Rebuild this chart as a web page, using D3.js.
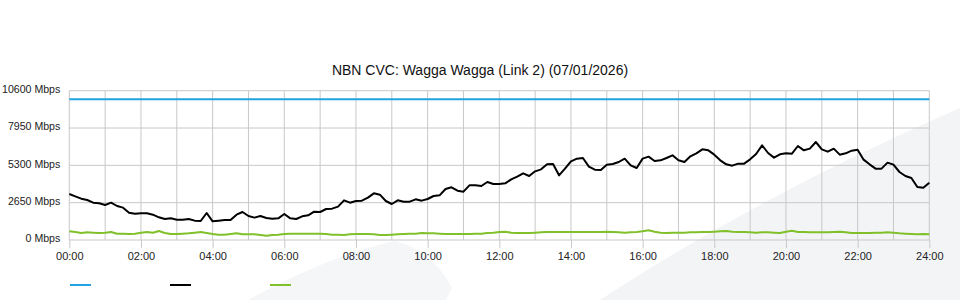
<!DOCTYPE html>
<html>
<head>
<meta charset="utf-8">
<script src="https://cdn.jsdelivr.net/npm/d3@7"></script>
<style>
  body { margin: 0; background: #fff; }
  svg { display: block; font-family: "Liberation Sans", Arial, sans-serif; }
</style>
</head>
<body>
<script>
const width = 960, height = 300;

// samples every 10 minutes, 00:00 .. 24:00
const minutes = d3.range(145).map(i => i * 10);

const capacity = minutes.map(() => 10000);

const traffic = [
  3266, 3100, 2935, 2840, 2650, 2603, 2485, 2650, 2414, 2296, 1941, 1870, 1893, 1893, 1799,
  1609, 1491, 1538, 1444, 1444, 1491, 1373, 1349, 1917, 1325, 1373, 1420, 1420, 1799, 1988,
  1704, 1586, 1704, 1562, 1515, 1538, 1846, 1538, 1491, 1680, 1751, 2012, 1988, 2201, 2225,
  2367, 2816, 2650, 2769, 2793, 3006, 3313, 3219, 2769, 2556, 2816, 2722, 2720,
  2887, 2793, 2911, 3124, 3171, 3621, 3739, 3503, 3432, 3881, 3881, 3834, 4118, 3976, 3976,
  4023, 4307, 4497, 4733, 4544, 4875, 5017, 5372, 5396, 4591, 5065, 5585, 5775,
  5822, 5207, 4994, 4970, 5349, 5396, 5538, 5775, 5301, 5112, 5775, 5917, 5609, 5656, 5822,
  6011, 5656, 5538, 5940, 6153, 6437, 6366, 6059, 5656, 5372, 5278, 5420, 5420, 5727,
  6106, 6721, 6177, 5846, 6082, 6153, 6130, 6674, 6366, 6485, 6958, 6437, 6272, 6485, 6059,
  6153, 6343, 6414, 5704, 5372, 5065, 5065, 5491, 5349, 4828, 4544, 4402, 3763, 3716, 4071
];

const upload = [
  615, 568, 497, 544, 520, 497, 520, 568, 450, 450, 426, 450, 520, 568, 520,
  639, 497, 426, 426, 450, 473, 520, 568, 497, 426, 379, 379, 426, 473, 402,
  402, 402, 355, 308, 355, 379, 426, 450, 450, 450, 450, 450, 450, 426, 379,
  379, 355, 402, 426, 426, 426, 402, 355, 355, 379, 402, 426, 450, 450, 497,
  473, 473, 450, 426, 426, 426, 426, 426, 450, 450, 497, 520, 568, 592, 520,
  497, 497, 497, 520, 544, 568, 568, 568, 568, 568, 568, 568, 568, 568, 568,
  592, 568, 544, 520, 544, 568, 615, 686, 592, 520, 497, 520, 520, 520, 544,
  544, 568, 568, 592, 615, 639, 592, 568, 568, 544, 520, 544, 544, 520, 497,
  592, 663, 568, 568, 544, 544, 544, 544, 568, 592, 544, 497, 497, 497, 497,
  520, 520, 544, 520, 473, 450, 426, 402, 426, 402
];

const series = [
  { values: capacity, color: "#22a3e2" },
  { values: traffic, color: "#000000" },
  { values: upload, color: "#80c02a" }
];

const yTicks = [0, 2650, 5300, 7950, 10600];
const title = "NBN CVC: Wagga Wagga (Link 2) (07/01/2026)";

const svg = d3.select("body").append("svg")
  .attr("width", width)
  .attr("height", height);

// faint watermark behind the chart
svg.append("path")
  .attr("d", "M600,300 Q760,195 960,108 L960,300 Z")
  .attr("fill", "#f3f4f6");
svg.append("path")
  .attr("d", "M248,300 Q330,255 395,241 Q432,250 452,288 L446,300 Z")
  .attr("fill", "#f5f6f8");

const x = d3.scaleLinear().domain([0, 1440]).range([69.3, 929.3]);
const y = d3.scaleLinear().domain([0, 10600]).range([240, 90.7]);

// grid
const grid = svg.append("g").attr("stroke", "#c8c8c8").attr("stroke-width", 1);
grid.selectAll(".vgrid")
  .data(d3.range(0, 1441, 60))
  .enter().append("line")
    .attr("x1", d => x(d)).attr("x2", d => x(d))
    .attr("y1", y(10600)).attr("y2", y(0));
grid.selectAll(".hgrid")
  .data(yTicks)
  .enter().append("line")
    .attr("x1", x(0)).attr("x2", x(1440))
    .attr("y1", d => y(d)).attr("y2", d => y(d));

// x axis
const xAxis = svg.append("g")
  .attr("transform", "translate(0," + y(0) + ")")
  .call(d3.axisBottom(x)
    .tickValues(d3.range(0, 1441, 120))
    .tickSize(8)
    .tickPadding(4)
    .tickFormat(d => String(d / 60).padStart(2, "0") + ":00"));
xAxis.select(".domain").remove();
xAxis.selectAll("line").attr("stroke", "#c8c8c8");
xAxis.selectAll("text")
  .attr("font-size", 11)
  .attr("font-family", "Liberation Sans, Arial, sans-serif")
  .attr("fill", "#222");

// y axis
const yAxis = svg.append("g")
  .attr("transform", "translate(" + x(0) + ",0)")
  .call(d3.axisLeft(y)
    .tickValues(yTicks)
    .tickSize(0)
    .tickPadding(9)
    .tickFormat(d => d + " Mbps"));
yAxis.select(".domain").remove();
yAxis.selectAll("text")
  .attr("dy", "0.18em")
  .attr("font-size", 10.6)
  .attr("font-family", "Liberation Sans, Arial, sans-serif")
  .attr("fill", "#222");

// lines
const line = d3.line()
  .x((d, i) => x(minutes[i]))
  .y(d => y(d));

svg.selectAll(".series")
  .data(series)
  .enter().append("path")
    .attr("class", "series")
    .attr("fill", "none")
    .attr("stroke", d => d.color)
    .attr("stroke-width", 2)
    .attr("stroke-linejoin", "round")
    .attr("d", d => line(d.values));

// title
svg.append("text")
  .attr("x", 480)
  .attr("y", 75)
  .attr("text-anchor", "middle")
  .attr("font-size", 14)
  .attr("fill", "#111")
  .text(title);

// legend swatches
svg.selectAll(".legend")
  .data(series)
  .enter().append("line")
    .attr("class", "legend")
    .attr("x1", (d, i) => 70 + i * 100)
    .attr("x2", (d, i) => 91 + i * 100)
    .attr("y1", 285).attr("y2", 285)
    .attr("stroke", d => d.color)
    .attr("stroke-width", 2);
</script>
</body>
</html>
